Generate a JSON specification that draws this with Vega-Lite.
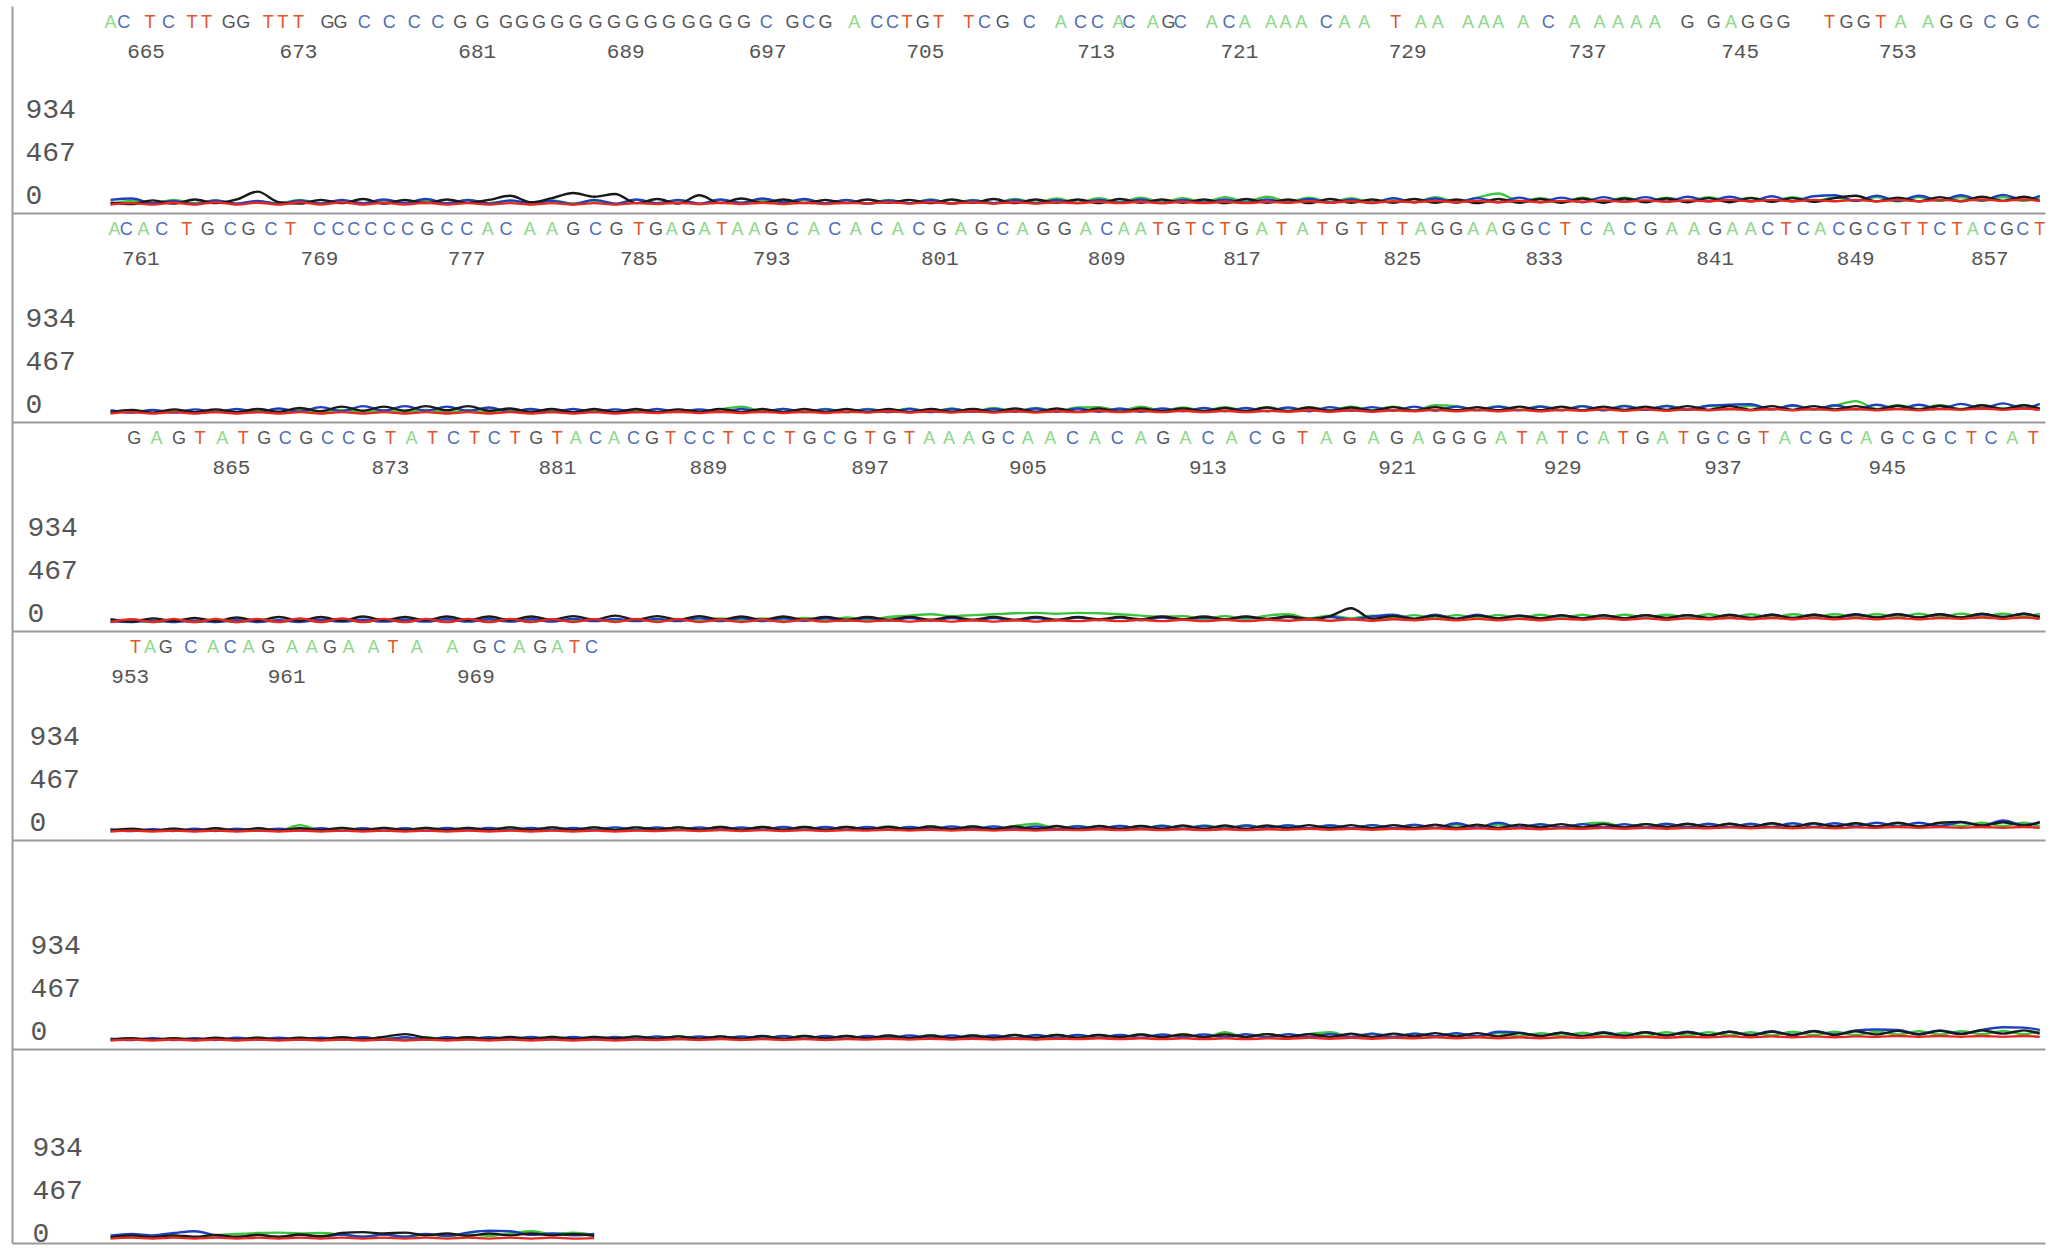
{
"$schema":"https://vega.github.io/schema/vega-lite/v6.json",
"background":"white",
"padding":{"left":12,"top":6,"right":6,"bottom":0},
"spacing":0,
"config":{"view":{"stroke":null},
"axisX":{"labels":false,"ticks":false,"grid":false,"domainColor":"#9a9a9a","domainWidth":2},
"axisY":{"labelAlign":"left","labelPadding":-13,"labelFont":"Liberation Mono","labelFontSize":28,"labelColor":"#555555","labelOffset":-9,"labelBaseline":"middle","ticks":false,"grid":false,"domainColor":"#9a9a9a","domainWidth":2}},
"datasets":{
"num":[
{"p":1,"x":112,"n":"665"},{"p":1,"x":228,"n":"673"},{"p":1,"x":364,"n":"681"},{"p":1,"x":477,"n":"689"},{"p":1,"x":585,"n":"697"},{"p":1,"x":705,"n":"705"},{"p":1,"x":835,"n":"713"},{"p":1,"x":944,"n":"721"},{"p":1,"x":1072,"n":"729"},{"p":1,"x":1209,"n":"737"},{"p":1,"x":1325,"n":"745"},{"p":1,"x":1445,"n":"753"},
{"p":2,"x":108,"n":"761"},{"p":2,"x":244,"n":"769"},{"p":2,"x":356,"n":"777"},{"p":2,"x":487,"n":"785"},{"p":2,"x":588,"n":"793"},{"p":2,"x":716,"n":"801"},{"p":2,"x":843,"n":"809"},{"p":2,"x":946,"n":"817"},{"p":2,"x":1068,"n":"825"},{"p":2,"x":1176,"n":"833"},{"p":2,"x":1306,"n":"841"},{"p":2,"x":1413,"n":"849"},{"p":2,"x":1515,"n":"857"},
{"p":3,"x":177,"n":"865"},{"p":3,"x":298,"n":"873"},{"p":3,"x":425,"n":"881"},{"p":3,"x":540,"n":"889"},{"p":3,"x":663,"n":"897"},{"p":3,"x":783,"n":"905"},{"p":3,"x":920,"n":"913"},{"p":3,"x":1064,"n":"921"},{"p":3,"x":1190,"n":"929"},{"p":3,"x":1312,"n":"937"},{"p":3,"x":1437,"n":"945"},
{"p":4,"x":100,"n":"953"},{"p":4,"x":219,"n":"961"},{"p":4,"x":363,"n":"969"}],
"seq":[
{"p":1,"x":85,"b":"A"},{"p":1,"x":95,"b":"C"},{"p":1,"x":115,"b":"T"},{"p":1,"x":129,"b":"C"},{"p":1,"x":147,"b":"T"},{"p":1,"x":158,"b":"T"},{"p":1,"x":175,"b":"G"},{"p":1,"x":186,"b":"G"},{"p":1,"x":205,"b":"T"},{"p":1,"x":216,"b":"T"},{"p":1,"x":228,"b":"T"},{"p":1,"x":250,"b":"G"},{"p":1,"x":260,"b":"G"},{"p":1,"x":278,"b":"C"},{"p":1,"x":297,"b":"C"},{"p":1,"x":316,"b":"C"},{"p":1,"x":334,"b":"C"},{"p":1,"x":351,"b":"G"},{"p":1,"x":368,"b":"G"},{"p":1,"x":386,"b":"G"},{"p":1,"x":398,"b":"G"},{"p":1,"x":411,"b":"G"},{"p":1,"x":425,"b":"G"},{"p":1,"x":439,"b":"G"},{"p":1,"x":454,"b":"G"},{"p":1,"x":468,"b":"G"},{"p":1,"x":482,"b":"G"},{"p":1,"x":496,"b":"G"},{"p":1,"x":510,"b":"G"},{"p":1,"x":525,"b":"G"},{"p":1,"x":538,"b":"G"},{"p":1,"x":553,"b":"G"},{"p":1,"x":567,"b":"G"},{"p":1,"x":584,"b":"C"},{"p":1,"x":604,"b":"G"},{"p":1,"x":616,"b":"C"},{"p":1,"x":629,"b":"G"},{"p":1,"x":651,"b":"A"},{"p":1,"x":668,"b":"C"},{"p":1,"x":680,"b":"C"},{"p":1,"x":691,"b":"T"},{"p":1,"x":703,"b":"G"},{"p":1,"x":715,"b":"T"},{"p":1,"x":738,"b":"T"},{"p":1,"x":750,"b":"C"},{"p":1,"x":764,"b":"G"},{"p":1,"x":784,"b":"C"},{"p":1,"x":808,"b":"A"},{"p":1,"x":823,"b":"C"},{"p":1,"x":836,"b":"C"},{"p":1,"x":852,"b":"A"},{"p":1,"x":860,"b":"C"},{"p":1,"x":878,"b":"A"},{"p":1,"x":890,"b":"G"},{"p":1,"x":899,"b":"C"},{"p":1,"x":923,"b":"A"},{"p":1,"x":936,"b":"C"},{"p":1,"x":948,"b":"A"},{"p":1,"x":968,"b":"A"},{"p":1,"x":979,"b":"A"},{"p":1,"x":991,"b":"A"},{"p":1,"x":1010,"b":"C"},{"p":1,"x":1024,"b":"A"},{"p":1,"x":1039,"b":"A"},{"p":1,"x":1063,"b":"T"},{"p":1,"x":1082,"b":"A"},{"p":1,"x":1095,"b":"A"},{"p":1,"x":1118,"b":"A"},{"p":1,"x":1130,"b":"A"},{"p":1,"x":1141,"b":"A"},{"p":1,"x":1160,"b":"A"},{"p":1,"x":1179,"b":"C"},{"p":1,"x":1199,"b":"A"},{"p":1,"x":1218,"b":"A"},{"p":1,"x":1232,"b":"A"},{"p":1,"x":1246,"b":"A"},{"p":1,"x":1260,"b":"A"},{"p":1,"x":1285,"b":"G"},{"p":1,"x":1305,"b":"G"},{"p":1,"x":1318,"b":"A"},{"p":1,"x":1331,"b":"G"},{"p":1,"x":1345,"b":"G"},{"p":1,"x":1358,"b":"G"},{"p":1,"x":1393,"b":"T"},{"p":1,"x":1406,"b":"G"},{"p":1,"x":1419,"b":"G"},{"p":1,"x":1432,"b":"T"},{"p":1,"x":1447,"b":"A"},{"p":1,"x":1468,"b":"A"},{"p":1,"x":1482,"b":"G"},{"p":1,"x":1497,"b":"G"},{"p":1,"x":1515,"b":"C"},{"p":1,"x":1532,"b":"G"},{"p":1,"x":1548,"b":"C"},
{"p":2,"x":88,"b":"A"},{"p":2,"x":97,"b":"C"},{"p":2,"x":110,"b":"A"},{"p":2,"x":124,"b":"C"},{"p":2,"x":143,"b":"T"},{"p":2,"x":159,"b":"G"},{"p":2,"x":176,"b":"C"},{"p":2,"x":190,"b":"G"},{"p":2,"x":207,"b":"C"},{"p":2,"x":222,"b":"T"},{"p":2,"x":244,"b":"C"},{"p":2,"x":258,"b":"C"},{"p":2,"x":270,"b":"C"},{"p":2,"x":283,"b":"C"},{"p":2,"x":297,"b":"C"},{"p":2,"x":311,"b":"C"},{"p":2,"x":326,"b":"G"},{"p":2,"x":341,"b":"C"},{"p":2,"x":356,"b":"C"},{"p":2,"x":372,"b":"A"},{"p":2,"x":386,"b":"C"},{"p":2,"x":404,"b":"A"},{"p":2,"x":421,"b":"A"},{"p":2,"x":437,"b":"G"},{"p":2,"x":454,"b":"C"},{"p":2,"x":470,"b":"G"},{"p":2,"x":487,"b":"T"},{"p":2,"x":500,"b":"G"},{"p":2,"x":512,"b":"A"},{"p":2,"x":525,"b":"G"},{"p":2,"x":537,"b":"A"},{"p":2,"x":550,"b":"T"},{"p":2,"x":562,"b":"A"},{"p":2,"x":575,"b":"A"},{"p":2,"x":588,"b":"G"},{"p":2,"x":604,"b":"C"},{"p":2,"x":620,"b":"A"},{"p":2,"x":636,"b":"C"},{"p":2,"x":652,"b":"A"},{"p":2,"x":668,"b":"C"},{"p":2,"x":684,"b":"A"},{"p":2,"x":700,"b":"C"},{"p":2,"x":716,"b":"G"},{"p":2,"x":732,"b":"A"},{"p":2,"x":748,"b":"G"},{"p":2,"x":764,"b":"C"},{"p":2,"x":779,"b":"A"},{"p":2,"x":795,"b":"G"},{"p":2,"x":811,"b":"G"},{"p":2,"x":827,"b":"A"},{"p":2,"x":843,"b":"C"},{"p":2,"x":856,"b":"A"},{"p":2,"x":869,"b":"A"},{"p":2,"x":882,"b":"T"},{"p":2,"x":894,"b":"G"},{"p":2,"x":907,"b":"T"},{"p":2,"x":920,"b":"C"},{"p":2,"x":933,"b":"T"},{"p":2,"x":946,"b":"G"},{"p":2,"x":961,"b":"A"},{"p":2,"x":976,"b":"T"},{"p":2,"x":992,"b":"A"},{"p":2,"x":1007,"b":"T"},{"p":2,"x":1022,"b":"G"},{"p":2,"x":1037,"b":"T"},{"p":2,"x":1053,"b":"T"},{"p":2,"x":1068,"b":"T"},{"p":2,"x":1082,"b":"A"},{"p":2,"x":1095,"b":"G"},{"p":2,"x":1109,"b":"G"},{"p":2,"x":1122,"b":"A"},{"p":2,"x":1136,"b":"A"},{"p":2,"x":1149,"b":"G"},{"p":2,"x":1163,"b":"G"},{"p":2,"x":1176,"b":"C"},{"p":2,"x":1192,"b":"T"},{"p":2,"x":1208,"b":"C"},{"p":2,"x":1225,"b":"A"},{"p":2,"x":1241,"b":"C"},{"p":2,"x":1257,"b":"G"},{"p":2,"x":1273,"b":"A"},{"p":2,"x":1290,"b":"A"},{"p":2,"x":1306,"b":"G"},{"p":2,"x":1319,"b":"A"},{"p":2,"x":1333,"b":"A"},{"p":2,"x":1346,"b":"C"},{"p":2,"x":1360,"b":"T"},{"p":2,"x":1373,"b":"C"},{"p":2,"x":1386,"b":"A"},{"p":2,"x":1400,"b":"C"},{"p":2,"x":1413,"b":"G"},{"p":2,"x":1426,"b":"C"},{"p":2,"x":1439,"b":"G"},{"p":2,"x":1451,"b":"T"},{"p":2,"x":1464,"b":"T"},{"p":2,"x":1477,"b":"C"},{"p":2,"x":1490,"b":"T"},{"p":2,"x":1502,"b":"A"},{"p":2,"x":1515,"b":"C"},{"p":2,"x":1528,"b":"G"},{"p":2,"x":1540,"b":"C"},{"p":2,"x":1553,"b":"T"},
{"p":3,"x":103,"b":"G"},{"p":3,"x":120,"b":"A"},{"p":3,"x":137,"b":"G"},{"p":3,"x":153,"b":"T"},{"p":3,"x":170,"b":"A"},{"p":3,"x":186,"b":"T"},{"p":3,"x":202,"b":"G"},{"p":3,"x":218,"b":"C"},{"p":3,"x":234,"b":"G"},{"p":3,"x":250,"b":"C"},{"p":3,"x":266,"b":"C"},{"p":3,"x":282,"b":"G"},{"p":3,"x":298,"b":"T"},{"p":3,"x":314,"b":"A"},{"p":3,"x":330,"b":"T"},{"p":3,"x":346,"b":"C"},{"p":3,"x":362,"b":"T"},{"p":3,"x":377,"b":"C"},{"p":3,"x":393,"b":"T"},{"p":3,"x":409,"b":"G"},{"p":3,"x":425,"b":"T"},{"p":3,"x":439,"b":"A"},{"p":3,"x":454,"b":"C"},{"p":3,"x":468,"b":"A"},{"p":3,"x":483,"b":"C"},{"p":3,"x":497,"b":"G"},{"p":3,"x":511,"b":"T"},{"p":3,"x":526,"b":"C"},{"p":3,"x":540,"b":"C"},{"p":3,"x":555,"b":"T"},{"p":3,"x":571,"b":"C"},{"p":3,"x":586,"b":"C"},{"p":3,"x":602,"b":"T"},{"p":3,"x":617,"b":"G"},{"p":3,"x":632,"b":"C"},{"p":3,"x":648,"b":"G"},{"p":3,"x":663,"b":"T"},{"p":3,"x":678,"b":"G"},{"p":3,"x":693,"b":"T"},{"p":3,"x":708,"b":"A"},{"p":3,"x":723,"b":"A"},{"p":3,"x":738,"b":"A"},{"p":3,"x":753,"b":"G"},{"p":3,"x":768,"b":"C"},{"p":3,"x":783,"b":"A"},{"p":3,"x":800,"b":"A"},{"p":3,"x":817,"b":"C"},{"p":3,"x":834,"b":"A"},{"p":3,"x":851,"b":"C"},{"p":3,"x":869,"b":"A"},{"p":3,"x":886,"b":"G"},{"p":3,"x":903,"b":"A"},{"p":3,"x":920,"b":"C"},{"p":3,"x":938,"b":"A"},{"p":3,"x":956,"b":"C"},{"p":3,"x":974,"b":"G"},{"p":3,"x":992,"b":"T"},{"p":3,"x":1010,"b":"A"},{"p":3,"x":1028,"b":"G"},{"p":3,"x":1046,"b":"A"},{"p":3,"x":1064,"b":"G"},{"p":3,"x":1080,"b":"A"},{"p":3,"x":1096,"b":"G"},{"p":3,"x":1111,"b":"G"},{"p":3,"x":1127,"b":"G"},{"p":3,"x":1143,"b":"A"},{"p":3,"x":1159,"b":"T"},{"p":3,"x":1174,"b":"A"},{"p":3,"x":1190,"b":"T"},{"p":3,"x":1205,"b":"C"},{"p":3,"x":1221,"b":"A"},{"p":3,"x":1236,"b":"T"},{"p":3,"x":1251,"b":"G"},{"p":3,"x":1266,"b":"A"},{"p":3,"x":1282,"b":"T"},{"p":3,"x":1297,"b":"G"},{"p":3,"x":1312,"b":"C"},{"p":3,"x":1328,"b":"G"},{"p":3,"x":1343,"b":"T"},{"p":3,"x":1359,"b":"A"},{"p":3,"x":1375,"b":"C"},{"p":3,"x":1390,"b":"G"},{"p":3,"x":1406,"b":"C"},{"p":3,"x":1421,"b":"A"},{"p":3,"x":1437,"b":"G"},{"p":3,"x":1453,"b":"C"},{"p":3,"x":1469,"b":"G"},{"p":3,"x":1485,"b":"C"},{"p":3,"x":1501,"b":"T"},{"p":3,"x":1516,"b":"C"},{"p":3,"x":1532,"b":"A"},{"p":3,"x":1548,"b":"T"},
{"p":4,"x":104,"b":"T"},{"p":4,"x":115,"b":"A"},{"p":4,"x":127,"b":"G"},{"p":4,"x":146,"b":"C"},{"p":4,"x":163,"b":"A"},{"p":4,"x":176,"b":"C"},{"p":4,"x":190,"b":"A"},{"p":4,"x":205,"b":"G"},{"p":4,"x":223,"b":"A"},{"p":4,"x":238,"b":"A"},{"p":4,"x":252,"b":"G"},{"p":4,"x":266,"b":"A"},{"p":4,"x":285,"b":"A"},{"p":4,"x":300,"b":"T"},{"p":4,"x":318,"b":"A"},{"p":4,"x":345,"b":"A"},{"p":4,"x":366,"b":"G"},{"p":4,"x":381,"b":"C"},{"p":4,"x":396,"b":"A"},{"p":4,"x":412,"b":"G"},{"p":4,"x":425,"b":"A"},{"p":4,"x":438,"b":"T"},{"p":4,"x":451,"b":"C"}],
"tr":[
{"p":1,"s":85,"A":10,"C":55,"G":25,"T":5},{"p":1,"s":101,"A":45,"C":70,"G":10,"T":20},{"p":1,"s":117,"A":15,"C":20,"G":50,"T":5},{"p":1,"s":133,"A":55,"C":45,"G":15,"T":25},{"p":1,"s":149,"A":20,"C":10,"G":60,"T":5},{"p":1,"s":165,"A":50,"C":50,"G":20,"T":30},{"p":1,"s":181,"A":10,"C":15,"G":60,"T":5},{"p":1,"s":197,"A":40,"C":45,"G":145,"T":25},{"p":1,"s":213,"A":15,"C":10,"G":30,"T":5},{"p":1,"s":229,"A":55,"C":50,"G":15,"T":30},{"p":1,"s":245,"A":20,"C":15,"G":55,"T":5},{"p":1,"s":261,"A":45,"C":55,"G":20,"T":30},{"p":1,"s":277,"A":10,"C":20,"G":65,"T":5},{"p":1,"s":293,"A":50,"C":60,"G":15,"T":25},{"p":1,"s":309,"A":15,"C":25,"G":55,"T":5},{"p":1,"s":325,"A":45,"C":65,"G":20,"T":25},{"p":1,"s":341,"A":10,"C":20,"G":60,"T":5},{"p":1,"s":357,"A":55,"C":55,"G":25,"T":20},{"p":1,"s":373,"A":20,"C":15,"G":55,"T":5},{"p":1,"s":389,"A":45,"C":50,"G":100,"T":20},{"p":1,"s":405,"A":10,"C":20,"G":30,"T":5},{"p":1,"s":421,"A":50,"C":45,"G":75,"T":20},{"p":1,"s":437,"A":15,"C":10,"G":130,"T":5},{"p":1,"s":453,"A":45,"C":55,"G":90,"T":20},{"p":1,"s":469,"A":10,"C":15,"G":120,"T":5},{"p":1,"s":485,"A":55,"C":60,"G":20,"T":20},{"p":1,"s":501,"A":15,"C":20,"G":65,"T":10},{"p":1,"s":517,"A":50,"C":55,"G":15,"T":25},{"p":1,"s":533,"A":10,"C":15,"G":105,"T":10},{"p":1,"s":549,"A":55,"C":60,"G":20,"T":25},{"p":1,"s":565,"A":20,"C":25,"G":70,"T":10},{"p":1,"s":581,"A":50,"C":70,"G":25,"T":25},{"p":1,"s":597,"A":15,"C":30,"G":60,"T":10},{"p":1,"s":613,"A":55,"C":65,"G":20,"T":25},{"p":1,"s":629,"A":20,"C":20,"G":55,"T":10},{"p":1,"s":645,"A":50,"C":55,"G":20,"T":25},{"p":1,"s":661,"A":15,"C":15,"G":60,"T":15},{"p":1,"s":677,"A":55,"C":50,"G":25,"T":30},{"p":1,"s":693,"A":20,"C":20,"G":55,"T":15},{"p":1,"s":709,"A":60,"C":55,"G":20,"T":30},{"p":1,"s":725,"A":20,"C":15,"G":60,"T":15},{"p":1,"s":741,"A":55,"C":50,"G":25,"T":30},{"p":1,"s":757,"A":20,"C":20,"G":65,"T":15},{"p":1,"s":773,"A":65,"C":55,"G":20,"T":30},{"p":1,"s":789,"A":25,"C":20,"G":60,"T":15},{"p":1,"s":805,"A":70,"C":55,"G":25,"T":30},{"p":1,"s":821,"A":25,"C":20,"G":60,"T":20},{"p":1,"s":837,"A":75,"C":55,"G":20,"T":35},{"p":1,"s":853,"A":30,"C":25,"G":65,"T":20},{"p":1,"s":869,"A":80,"C":60,"G":25,"T":35},{"p":1,"s":885,"A":30,"C":20,"G":60,"T":20},{"p":1,"s":901,"A":75,"C":55,"G":25,"T":35},{"p":1,"s":917,"A":30,"C":25,"G":60,"T":20},{"p":1,"s":933,"A":85,"C":60,"G":20,"T":35},{"p":1,"s":949,"A":35,"C":25,"G":65,"T":20},{"p":1,"s":965,"A":90,"C":60,"G":25,"T":35},{"p":1,"s":981,"A":35,"C":25,"G":60,"T":25},{"p":1,"s":997,"A":80,"C":65,"G":20,"T":40},{"p":1,"s":1013,"A":30,"C":25,"G":65,"T":25},{"p":1,"s":1029,"A":75,"C":60,"G":25,"T":40},{"p":1,"s":1045,"A":30,"C":20,"G":60,"T":25},{"p":1,"s":1061,"A":70,"C":75,"G":25,"T":40},{"p":1,"s":1077,"A":30,"C":30,"G":65,"T":30},{"p":1,"s":1093,"A":85,"C":70,"G":25,"T":45},{"p":1,"s":1109,"A":35,"C":25,"G":60,"T":30},{"p":1,"s":1125,"A":80,"C":75,"G":20,"T":45},{"p":1,"s":1141,"A":125,"C":30,"G":65,"T":30},{"p":1,"s":1157,"A":40,"C":80,"G":25,"T":45},{"p":1,"s":1173,"A":75,"C":30,"G":65,"T":30},{"p":1,"s":1189,"A":35,"C":80,"G":25,"T":45},{"p":1,"s":1205,"A":80,"C":30,"G":70,"T":35},{"p":1,"s":1221,"A":35,"C":85,"G":25,"T":50},{"p":1,"s":1237,"A":80,"C":35,"G":70,"T":35},{"p":1,"s":1253,"A":40,"C":85,"G":30,"T":50},{"p":1,"s":1269,"A":80,"C":35,"G":70,"T":35},{"p":1,"s":1285,"A":40,"C":90,"G":30,"T":50},{"p":1,"s":1301,"A":85,"C":40,"G":75,"T":40},{"p":1,"s":1317,"A":40,"C":90,"G":30,"T":55},{"p":1,"s":1333,"A":80,"C":40,"G":75,"T":40},{"p":1,"s":1349,"A":40,"C":95,"G":35,"T":55},{"p":1,"s":1365,"A":85,"C":40,"G":75,"T":40},{"p":1,"s":1381,"A":40,"C":95,"G":35,"T":55},{"p":1,"s":1397,"A":80,"C":105,"G":75,"T":40},{"p":1,"s":1413,"A":45,"C":45,"G":100,"T":55},{"p":1,"s":1429,"A":85,"C":100,"G":40,"T":40},{"p":1,"s":1445,"A":40,"C":45,"G":80,"T":55},{"p":1,"s":1461,"A":85,"C":100,"G":40,"T":40},{"p":1,"s":1477,"A":45,"C":50,"G":85,"T":55},{"p":1,"s":1493,"A":85,"C":105,"G":40,"T":45},{"p":1,"s":1509,"A":45,"C":50,"G":90,"T":60},{"p":1,"s":1525,"A":85,"C":110,"G":45,"T":45},{"p":1,"s":1541,"A":45,"C":55,"G":90,"T":60},{"p":1,"s":1553,"A":80,"C":100,"G":45,"T":45},
{"p":2,"s":85,"A":10,"C":40,"G":20,"T":5},{"p":2,"s":101,"A":35,"C":15,"G":45,"T":20},{"p":2,"s":117,"A":10,"C":45,"G":15,"T":5},{"p":2,"s":133,"A":40,"C":15,"G":50,"T":20},{"p":2,"s":149,"A":15,"C":50,"G":20,"T":5},{"p":2,"s":165,"A":40,"C":20,"G":50,"T":20},{"p":2,"s":181,"A":10,"C":55,"G":20,"T":5},{"p":2,"s":197,"A":45,"C":20,"G":55,"T":20},{"p":2,"s":213,"A":15,"C":60,"G":25,"T":5},{"p":2,"s":229,"A":40,"C":25,"G":65,"T":20},{"p":2,"s":245,"A":15,"C":75,"G":30,"T":5},{"p":2,"s":261,"A":45,"C":30,"G":80,"T":20},{"p":2,"s":277,"A":15,"C":85,"G":35,"T":5},{"p":2,"s":293,"A":40,"C":35,"G":80,"T":20},{"p":2,"s":309,"A":15,"C":85,"G":35,"T":5},{"p":2,"s":325,"A":45,"C":35,"G":85,"T":20},{"p":2,"s":341,"A":15,"C":80,"G":40,"T":5},{"p":2,"s":357,"A":40,"C":35,"G":85,"T":20},{"p":2,"s":373,"A":15,"C":70,"G":35,"T":5},{"p":2,"s":389,"A":45,"C":25,"G":60,"T":20},{"p":2,"s":405,"A":15,"C":55,"G":25,"T":5},{"p":2,"s":421,"A":40,"C":20,"G":55,"T":20},{"p":2,"s":437,"A":15,"C":55,"G":20,"T":5},{"p":2,"s":453,"A":45,"C":20,"G":55,"T":20},{"p":2,"s":469,"A":15,"C":50,"G":20,"T":5},{"p":2,"s":485,"A":45,"C":20,"G":55,"T":20},{"p":2,"s":501,"A":15,"C":55,"G":20,"T":10},{"p":2,"s":517,"A":45,"C":20,"G":50,"T":25},{"p":2,"s":533,"A":20,"C":50,"G":25,"T":10},{"p":2,"s":549,"A":50,"C":20,"G":55,"T":25},{"p":2,"s":565,"A":80,"C":55,"G":20,"T":10},{"p":2,"s":581,"A":30,"C":20,"G":55,"T":25},{"p":2,"s":597,"A":55,"C":55,"G":20,"T":10},{"p":2,"s":613,"A":20,"C":20,"G":55,"T":25},{"p":2,"s":629,"A":55,"C":50,"G":20,"T":10},{"p":2,"s":645,"A":20,"C":20,"G":55,"T":25},{"p":2,"s":661,"A":55,"C":50,"G":20,"T":15},{"p":2,"s":677,"A":25,"C":20,"G":55,"T":30},{"p":2,"s":693,"A":60,"C":55,"G":20,"T":15},{"p":2,"s":709,"A":25,"C":20,"G":55,"T":30},{"p":2,"s":725,"A":60,"C":55,"G":25,"T":15},{"p":2,"s":741,"A":25,"C":25,"G":55,"T":30},{"p":2,"s":757,"A":65,"C":55,"G":25,"T":15},{"p":2,"s":773,"A":30,"C":25,"G":60,"T":30},{"p":2,"s":789,"A":65,"C":60,"G":25,"T":15},{"p":2,"s":805,"A":30,"C":25,"G":60,"T":30},{"p":2,"s":821,"A":70,"C":60,"G":25,"T":20},{"p":2,"s":837,"A":75,"C":25,"G":60,"T":35},{"p":2,"s":853,"A":35,"C":60,"G":25,"T":20},{"p":2,"s":869,"A":80,"C":25,"G":60,"T":35},{"p":2,"s":885,"A":35,"C":60,"G":30,"T":20},{"p":2,"s":901,"A":70,"C":30,"G":60,"T":35},{"p":2,"s":917,"A":35,"C":65,"G":30,"T":20},{"p":2,"s":933,"A":75,"C":30,"G":65,"T":35},{"p":2,"s":949,"A":35,"C":65,"G":30,"T":20},{"p":2,"s":965,"A":75,"C":30,"G":70,"T":35},{"p":2,"s":981,"A":35,"C":70,"G":30,"T":25},{"p":2,"s":997,"A":75,"C":30,"G":70,"T":40},{"p":2,"s":1013,"A":40,"C":75,"G":35,"T":25},{"p":2,"s":1029,"A":80,"C":35,"G":70,"T":40},{"p":2,"s":1045,"A":40,"C":75,"G":35,"T":25},{"p":2,"s":1061,"A":80,"C":35,"G":75,"T":40},{"p":2,"s":1077,"A":40,"C":80,"G":35,"T":30},{"p":2,"s":1093,"A":95,"C":35,"G":75,"T":45},{"p":2,"s":1109,"A":85,"C":80,"G":40,"T":30},{"p":2,"s":1125,"A":45,"C":40,"G":75,"T":45},{"p":2,"s":1141,"A":85,"C":80,"G":40,"T":30},{"p":2,"s":1157,"A":45,"C":40,"G":80,"T":45},{"p":2,"s":1173,"A":85,"C":80,"G":40,"T":30},{"p":2,"s":1189,"A":45,"C":40,"G":80,"T":45},{"p":2,"s":1205,"A":85,"C":85,"G":40,"T":35},{"p":2,"s":1221,"A":45,"C":40,"G":80,"T":50},{"p":2,"s":1237,"A":90,"C":85,"G":45,"T":35},{"p":2,"s":1253,"A":45,"C":45,"G":80,"T":50},{"p":2,"s":1269,"A":90,"C":85,"G":45,"T":35},{"p":2,"s":1285,"A":50,"C":45,"G":85,"T":50},{"p":2,"s":1301,"A":90,"C":90,"G":45,"T":40},{"p":2,"s":1317,"A":50,"C":100,"G":85,"T":55},{"p":2,"s":1333,"A":90,"C":105,"G":45,"T":40},{"p":2,"s":1349,"A":50,"C":50,"G":85,"T":55},{"p":2,"s":1365,"A":90,"C":95,"G":45,"T":40},{"p":2,"s":1381,"A":50,"C":50,"G":85,"T":55},{"p":2,"s":1397,"A":90,"C":95,"G":50,"T":40},{"p":2,"s":1413,"A":140,"C":50,"G":85,"T":55},{"p":2,"s":1429,"A":55,"C":100,"G":50,"T":40},{"p":2,"s":1445,"A":95,"C":55,"G":90,"T":55},{"p":2,"s":1461,"A":55,"C":100,"G":50,"T":40},{"p":2,"s":1477,"A":95,"C":55,"G":90,"T":55},{"p":2,"s":1493,"A":55,"C":110,"G":50,"T":45},{"p":2,"s":1509,"A":95,"C":60,"G":95,"T":60},{"p":2,"s":1525,"A":60,"C":115,"G":55,"T":45},{"p":2,"s":1541,"A":95,"C":60,"G":95,"T":60},{"p":2,"s":1553,"A":60,"C":110,"G":55,"T":45},
{"p":3,"s":85,"A":10,"C":20,"G":40,"T":10},{"p":3,"s":101,"A":30,"C":10,"G":15,"T":40},{"p":3,"s":117,"A":10,"C":25,"G":50,"T":10},{"p":3,"s":133,"A":30,"C":10,"G":20,"T":45},{"p":3,"s":149,"A":10,"C":25,"G":55,"T":10},{"p":3,"s":165,"A":30,"C":10,"G":20,"T":45},{"p":3,"s":181,"A":10,"C":30,"G":60,"T":10},{"p":3,"s":197,"A":30,"C":10,"G":25,"T":45},{"p":3,"s":213,"A":15,"C":30,"G":65,"T":10},{"p":3,"s":229,"A":35,"C":10,"G":25,"T":50},{"p":3,"s":245,"A":15,"C":35,"G":65,"T":10},{"p":3,"s":261,"A":35,"C":15,"G":25,"T":50},{"p":3,"s":277,"A":15,"C":35,"G":70,"T":10},{"p":3,"s":293,"A":35,"C":15,"G":30,"T":45},{"p":3,"s":309,"A":15,"C":35,"G":65,"T":10},{"p":3,"s":325,"A":35,"C":15,"G":30,"T":45},{"p":3,"s":341,"A":15,"C":40,"G":70,"T":10},{"p":3,"s":357,"A":40,"C":15,"G":30,"T":45},{"p":3,"s":373,"A":15,"C":40,"G":70,"T":10},{"p":3,"s":389,"A":40,"C":15,"G":30,"T":45},{"p":3,"s":405,"A":15,"C":40,"G":70,"T":10},{"p":3,"s":421,"A":40,"C":15,"G":35,"T":40},{"p":3,"s":437,"A":20,"C":45,"G":75,"T":10},{"p":3,"s":453,"A":40,"C":20,"G":35,"T":40},{"p":3,"s":469,"A":20,"C":45,"G":80,"T":10},{"p":3,"s":485,"A":45,"C":20,"G":35,"T":40},{"p":3,"s":501,"A":20,"C":45,"G":75,"T":10},{"p":3,"s":517,"A":45,"C":20,"G":35,"T":40},{"p":3,"s":533,"A":20,"C":50,"G":75,"T":10},{"p":3,"s":549,"A":50,"C":20,"G":35,"T":35},{"p":3,"s":565,"A":25,"C":50,"G":70,"T":10},{"p":3,"s":581,"A":50,"C":20,"G":35,"T":35},{"p":3,"s":597,"A":25,"C":50,"G":70,"T":10},{"p":3,"s":613,"A":55,"C":25,"G":35,"T":35},{"p":3,"s":629,"A":25,"C":50,"G":65,"T":15},{"p":3,"s":645,"A":60,"C":25,"G":35,"T":30},{"p":3,"s":661,"A":30,"C":55,"G":65,"T":15},{"p":3,"s":677,"A":65,"C":25,"G":35,"T":30},{"p":3,"s":693,"A":80,"C":55,"G":65,"T":15},{"p":3,"s":709,"A":95,"C":25,"G":35,"T":30},{"p":3,"s":725,"A":75,"C":55,"G":65,"T":15},{"p":3,"s":741,"A":85,"C":30,"G":35,"T":30},{"p":3,"s":757,"A":95,"C":55,"G":65,"T":15},{"p":3,"s":773,"A":105,"C":30,"G":35,"T":30},{"p":3,"s":789,"A":110,"C":55,"G":65,"T":15},{"p":3,"s":805,"A":100,"C":30,"G":35,"T":30},{"p":3,"s":821,"A":110,"C":60,"G":65,"T":20},{"p":3,"s":837,"A":105,"C":30,"G":40,"T":35},{"p":3,"s":853,"A":95,"C":60,"G":65,"T":20},{"p":3,"s":869,"A":80,"C":30,"G":40,"T":35},{"p":3,"s":885,"A":65,"C":60,"G":70,"T":20},{"p":3,"s":901,"A":75,"C":35,"G":40,"T":35},{"p":3,"s":917,"A":45,"C":60,"G":70,"T":20},{"p":3,"s":933,"A":75,"C":35,"G":40,"T":35},{"p":3,"s":949,"A":45,"C":65,"G":70,"T":20},{"p":3,"s":965,"A":80,"C":35,"G":45,"T":35},{"p":3,"s":981,"A":95,"C":65,"G":70,"T":25},{"p":3,"s":997,"A":50,"C":35,"G":45,"T":40},{"p":3,"s":1013,"A":80,"C":65,"G":75,"T":25},{"p":3,"s":1029,"A":50,"C":40,"G":160,"T":40},{"p":3,"s":1045,"A":80,"C":70,"G":45,"T":25},{"p":3,"s":1061,"A":50,"C":90,"G":75,"T":40},{"p":3,"s":1077,"A":85,"C":45,"G":45,"T":30},{"p":3,"s":1093,"A":50,"C":90,"G":80,"T":45},{"p":3,"s":1109,"A":85,"C":45,"G":45,"T":30},{"p":3,"s":1125,"A":55,"C":90,"G":80,"T":45},{"p":3,"s":1141,"A":85,"C":45,"G":50,"T":30},{"p":3,"s":1157,"A":55,"C":80,"G":80,"T":45},{"p":3,"s":1173,"A":90,"C":45,"G":50,"T":30},{"p":3,"s":1189,"A":55,"C":80,"G":85,"T":45},{"p":3,"s":1205,"A":90,"C":50,"G":50,"T":35},{"p":3,"s":1221,"A":55,"C":80,"G":85,"T":50},{"p":3,"s":1237,"A":90,"C":50,"G":50,"T":35},{"p":3,"s":1253,"A":60,"C":85,"G":85,"T":50},{"p":3,"s":1269,"A":90,"C":50,"G":55,"T":35},{"p":3,"s":1285,"A":60,"C":85,"G":85,"T":50},{"p":3,"s":1301,"A":95,"C":50,"G":55,"T":40},{"p":3,"s":1317,"A":60,"C":85,"G":90,"T":55},{"p":3,"s":1333,"A":95,"C":55,"G":55,"T":40},{"p":3,"s":1349,"A":60,"C":90,"G":90,"T":55},{"p":3,"s":1365,"A":95,"C":55,"G":55,"T":40},{"p":3,"s":1381,"A":65,"C":90,"G":90,"T":55},{"p":3,"s":1397,"A":95,"C":55,"G":60,"T":40},{"p":3,"s":1413,"A":65,"C":90,"G":95,"T":55},{"p":3,"s":1429,"A":95,"C":60,"G":60,"T":40},{"p":3,"s":1445,"A":65,"C":95,"G":95,"T":55},{"p":3,"s":1461,"A":100,"C":60,"G":60,"T":40},{"p":3,"s":1477,"A":65,"C":95,"G":95,"T":55},{"p":3,"s":1493,"A":100,"C":60,"G":60,"T":45},{"p":3,"s":1509,"A":70,"C":95,"G":100,"T":60},{"p":3,"s":1525,"A":100,"C":65,"G":65,"T":45},{"p":3,"s":1541,"A":70,"C":100,"G":100,"T":60},{"p":3,"s":1553,"A":100,"C":65,"G":65,"T":45},
{"p":4,"s":85,"A":10,"C":30,"G":15,"T":5},{"p":4,"s":101,"A":30,"C":10,"G":35,"T":15},{"p":4,"s":117,"A":10,"C":30,"G":15,"T":5},{"p":4,"s":133,"A":35,"C":10,"G":35,"T":15},{"p":4,"s":149,"A":10,"C":35,"G":15,"T":5},{"p":4,"s":165,"A":35,"C":10,"G":40,"T":15},{"p":4,"s":181,"A":15,"C":35,"G":15,"T":5},{"p":4,"s":197,"A":40,"C":15,"G":40,"T":15},{"p":4,"s":213,"A":15,"C":35,"G":15,"T":5},{"p":4,"s":229,"A":75,"C":15,"G":40,"T":15},{"p":4,"s":245,"A":20,"C":40,"G":20,"T":5},{"p":4,"s":261,"A":45,"C":15,"G":45,"T":15},{"p":4,"s":277,"A":20,"C":40,"G":20,"T":5},{"p":4,"s":293,"A":45,"C":15,"G":45,"T":15},{"p":4,"s":309,"A":20,"C":40,"G":20,"T":5},{"p":4,"s":325,"A":45,"C":15,"G":45,"T":15},{"p":4,"s":341,"A":20,"C":45,"G":20,"T":5},{"p":4,"s":357,"A":45,"C":20,"G":45,"T":15},{"p":4,"s":373,"A":20,"C":45,"G":20,"T":5},{"p":4,"s":389,"A":50,"C":20,"G":50,"T":15},{"p":4,"s":405,"A":20,"C":45,"G":20,"T":5},{"p":4,"s":421,"A":50,"C":20,"G":50,"T":15},{"p":4,"s":437,"A":20,"C":45,"G":20,"T":5},{"p":4,"s":453,"A":50,"C":20,"G":50,"T":15},{"p":4,"s":469,"A":25,"C":50,"G":20,"T":5},{"p":4,"s":485,"A":50,"C":20,"G":50,"T":15},{"p":4,"s":501,"A":25,"C":50,"G":25,"T":10},{"p":4,"s":517,"A":50,"C":20,"G":50,"T":20},{"p":4,"s":533,"A":25,"C":50,"G":25,"T":10},{"p":4,"s":549,"A":55,"C":25,"G":55,"T":20},{"p":4,"s":565,"A":25,"C":50,"G":25,"T":10},{"p":4,"s":581,"A":55,"C":25,"G":55,"T":20},{"p":4,"s":597,"A":25,"C":55,"G":25,"T":10},{"p":4,"s":613,"A":55,"C":25,"G":55,"T":20},{"p":4,"s":629,"A":25,"C":55,"G":25,"T":10},{"p":4,"s":645,"A":55,"C":25,"G":55,"T":20},{"p":4,"s":661,"A":30,"C":55,"G":30,"T":15},{"p":4,"s":677,"A":60,"C":25,"G":55,"T":25},{"p":4,"s":693,"A":30,"C":55,"G":30,"T":15},{"p":4,"s":709,"A":60,"C":30,"G":60,"T":25},{"p":4,"s":725,"A":30,"C":60,"G":30,"T":15},{"p":4,"s":741,"A":60,"C":30,"G":60,"T":25},{"p":4,"s":757,"A":30,"C":60,"G":30,"T":15},{"p":4,"s":773,"A":65,"C":30,"G":60,"T":25},{"p":4,"s":789,"A":90,"C":60,"G":30,"T":15},{"p":4,"s":805,"A":35,"C":30,"G":65,"T":25},{"p":4,"s":821,"A":65,"C":60,"G":30,"T":20},{"p":4,"s":837,"A":35,"C":35,"G":65,"T":30},{"p":4,"s":853,"A":65,"C":65,"G":35,"T":20},{"p":4,"s":869,"A":35,"C":35,"G":65,"T":30},{"p":4,"s":885,"A":70,"C":65,"G":35,"T":20},{"p":4,"s":901,"A":35,"C":35,"G":70,"T":30},{"p":4,"s":917,"A":70,"C":65,"G":35,"T":20},{"p":4,"s":933,"A":40,"C":35,"G":70,"T":30},{"p":4,"s":949,"A":70,"C":70,"G":35,"T":20},{"p":4,"s":965,"A":40,"C":40,"G":70,"T":30},{"p":4,"s":981,"A":75,"C":70,"G":40,"T":25},{"p":4,"s":997,"A":40,"C":40,"G":75,"T":35},{"p":4,"s":1013,"A":75,"C":70,"G":40,"T":25},{"p":4,"s":1029,"A":40,"C":40,"G":75,"T":35},{"p":4,"s":1045,"A":75,"C":75,"G":40,"T":25},{"p":4,"s":1061,"A":45,"C":40,"G":75,"T":35},{"p":4,"s":1077,"A":75,"C":80,"G":45,"T":30},{"p":4,"s":1093,"A":45,"C":45,"G":80,"T":40},{"p":4,"s":1109,"A":80,"C":95,"G":45,"T":30},{"p":4,"s":1125,"A":45,"C":50,"G":80,"T":40},{"p":4,"s":1141,"A":80,"C":100,"G":45,"T":30},{"p":4,"s":1157,"A":45,"C":50,"G":80,"T":40},{"p":4,"s":1173,"A":80,"C":85,"G":50,"T":30},{"p":4,"s":1189,"A":50,"C":50,"G":85,"T":40},{"p":4,"s":1205,"A":85,"C":85,"G":50,"T":35},{"p":4,"s":1221,"A":100,"C":50,"G":85,"T":45},{"p":4,"s":1237,"A":55,"C":85,"G":50,"T":35},{"p":4,"s":1253,"A":85,"C":50,"G":85,"T":45},{"p":4,"s":1269,"A":55,"C":90,"G":55,"T":35},{"p":4,"s":1285,"A":85,"C":55,"G":90,"T":45},{"p":4,"s":1301,"A":55,"C":90,"G":55,"T":40},{"p":4,"s":1317,"A":90,"C":55,"G":90,"T":50},{"p":4,"s":1333,"A":55,"C":90,"G":55,"T":40},{"p":4,"s":1349,"A":90,"C":55,"G":95,"T":50},{"p":4,"s":1365,"A":60,"C":95,"G":55,"T":40},{"p":4,"s":1381,"A":90,"C":55,"G":95,"T":50},{"p":4,"s":1397,"A":60,"C":95,"G":60,"T":40},{"p":4,"s":1413,"A":95,"C":60,"G":95,"T":50},{"p":4,"s":1429,"A":60,"C":100,"G":60,"T":45},{"p":4,"s":1445,"A":95,"C":60,"G":100,"T":55},{"p":4,"s":1461,"A":60,"C":100,"G":60,"T":45},{"p":4,"s":1477,"A":95,"C":65,"G":100,"T":55},{"p":4,"s":1493,"A":65,"C":105,"G":110,"T":45},{"p":4,"s":1509,"A":100,"C":70,"G":70,"T":55},{"p":4,"s":1525,"A":65,"C":125,"G":105,"T":45},{"p":4,"s":1541,"A":100,"C":75,"G":70,"T":55},{"p":4,"s":1553,"A":65,"C":110,"G":105,"T":45},
{"p":5,"s":85,"A":10,"C":25,"G":15,"T":5},{"p":5,"s":101,"A":25,"C":10,"G":30,"T":15},{"p":5,"s":117,"A":10,"C":30,"G":15,"T":5},{"p":5,"s":133,"A":30,"C":10,"G":30,"T":15},{"p":5,"s":149,"A":10,"C":30,"G":15,"T":5},{"p":5,"s":165,"A":30,"C":10,"G":35,"T":15},{"p":5,"s":181,"A":10,"C":35,"G":15,"T":5},{"p":5,"s":197,"A":35,"C":15,"G":35,"T":15},{"p":5,"s":213,"A":15,"C":35,"G":15,"T":5},{"p":5,"s":229,"A":35,"C":15,"G":35,"T":15},{"p":5,"s":245,"A":15,"C":35,"G":20,"T":5},{"p":5,"s":261,"A":35,"C":15,"G":40,"T":15},{"p":5,"s":277,"A":15,"C":40,"G":20,"T":5},{"p":5,"s":293,"A":40,"C":15,"G":45,"T":15},{"p":5,"s":309,"A":15,"C":40,"G":75,"T":5},{"p":5,"s":325,"A":40,"C":15,"G":35,"T":15},{"p":5,"s":341,"A":15,"C":40,"G":20,"T":5},{"p":5,"s":357,"A":40,"C":20,"G":40,"T":15},{"p":5,"s":373,"A":15,"C":40,"G":20,"T":5},{"p":5,"s":389,"A":40,"C":20,"G":45,"T":15},{"p":5,"s":405,"A":20,"C":45,"G":20,"T":5},{"p":5,"s":421,"A":45,"C":20,"G":45,"T":15},{"p":5,"s":437,"A":20,"C":45,"G":20,"T":5},{"p":5,"s":453,"A":45,"C":20,"G":45,"T":15},{"p":5,"s":469,"A":20,"C":45,"G":25,"T":5},{"p":5,"s":485,"A":45,"C":20,"G":50,"T":15},{"p":5,"s":501,"A":20,"C":50,"G":25,"T":10},{"p":5,"s":517,"A":50,"C":20,"G":50,"T":20},{"p":5,"s":533,"A":20,"C":50,"G":25,"T":10},{"p":5,"s":549,"A":50,"C":25,"G":50,"T":20},{"p":5,"s":565,"A":25,"C":50,"G":25,"T":10},{"p":5,"s":581,"A":50,"C":25,"G":55,"T":20},{"p":5,"s":597,"A":25,"C":55,"G":25,"T":10},{"p":5,"s":613,"A":55,"C":25,"G":55,"T":20},{"p":5,"s":629,"A":25,"C":55,"G":30,"T":10},{"p":5,"s":645,"A":55,"C":25,"G":55,"T":20},{"p":5,"s":661,"A":25,"C":55,"G":30,"T":15},{"p":5,"s":677,"A":55,"C":30,"G":60,"T":25},{"p":5,"s":693,"A":30,"C":60,"G":30,"T":15},{"p":5,"s":709,"A":60,"C":30,"G":60,"T":25},{"p":5,"s":725,"A":30,"C":60,"G":30,"T":15},{"p":5,"s":741,"A":60,"C":30,"G":60,"T":25},{"p":5,"s":757,"A":30,"C":60,"G":35,"T":15},{"p":5,"s":773,"A":65,"C":30,"G":65,"T":25},{"p":5,"s":789,"A":30,"C":65,"G":35,"T":15},{"p":5,"s":805,"A":65,"C":35,"G":65,"T":25},{"p":5,"s":821,"A":35,"C":65,"G":35,"T":20},{"p":5,"s":837,"A":65,"C":35,"G":65,"T":30},{"p":5,"s":853,"A":35,"C":65,"G":40,"T":20},{"p":5,"s":869,"A":70,"C":35,"G":70,"T":30},{"p":5,"s":885,"A":35,"C":70,"G":40,"T":20},{"p":5,"s":901,"A":70,"C":40,"G":70,"T":30},{"p":5,"s":917,"A":40,"C":70,"G":40,"T":20},{"p":5,"s":933,"A":95,"C":40,"G":70,"T":30},{"p":5,"s":949,"A":40,"C":75,"G":45,"T":20},{"p":5,"s":965,"A":75,"C":40,"G":75,"T":30},{"p":5,"s":981,"A":40,"C":75,"G":45,"T":25},{"p":5,"s":997,"A":75,"C":45,"G":75,"T":35},{"p":5,"s":1013,"A":95,"C":75,"G":45,"T":25},{"p":5,"s":1029,"A":45,"C":45,"G":80,"T":35},{"p":5,"s":1045,"A":80,"C":80,"G":45,"T":25},{"p":5,"s":1061,"A":45,"C":45,"G":80,"T":35},{"p":5,"s":1077,"A":80,"C":80,"G":50,"T":30},{"p":5,"s":1093,"A":50,"C":50,"G":85,"T":40},{"p":5,"s":1109,"A":80,"C":85,"G":50,"T":30},{"p":5,"s":1125,"A":50,"C":50,"G":85,"T":40},{"p":5,"s":1141,"A":85,"C":100,"G":50,"T":30},{"p":5,"s":1157,"A":50,"C":90,"G":85,"T":40},{"p":5,"s":1173,"A":85,"C":55,"G":55,"T":30},{"p":5,"s":1189,"A":55,"C":90,"G":90,"T":40},{"p":5,"s":1205,"A":90,"C":55,"G":55,"T":35},{"p":5,"s":1221,"A":55,"C":95,"G":90,"T":45},{"p":5,"s":1237,"A":90,"C":60,"G":55,"T":35},{"p":5,"s":1253,"A":55,"C":95,"G":95,"T":45},{"p":5,"s":1269,"A":95,"C":60,"G":60,"T":35},{"p":5,"s":1285,"A":60,"C":100,"G":95,"T":45},{"p":5,"s":1301,"A":95,"C":60,"G":60,"T":40},{"p":5,"s":1317,"A":60,"C":100,"G":100,"T":50},{"p":5,"s":1333,"A":95,"C":65,"G":60,"T":40},{"p":5,"s":1349,"A":60,"C":105,"G":100,"T":50},{"p":5,"s":1365,"A":100,"C":65,"G":65,"T":40},{"p":5,"s":1381,"A":65,"C":110,"G":105,"T":50},{"p":5,"s":1397,"A":100,"C":70,"G":65,"T":40},{"p":5,"s":1413,"A":65,"C":115,"G":105,"T":50},{"p":5,"s":1429,"A":100,"C":125,"G":70,"T":45},{"p":5,"s":1445,"A":70,"C":120,"G":110,"T":55},{"p":5,"s":1461,"A":105,"C":75,"G":70,"T":45},{"p":5,"s":1477,"A":70,"C":115,"G":110,"T":55},{"p":5,"s":1493,"A":105,"C":80,"G":75,"T":45},{"p":5,"s":1509,"A":75,"C":120,"G":115,"T":55},{"p":5,"s":1525,"A":110,"C":150,"G":80,"T":45},{"p":5,"s":1541,"A":75,"C":145,"G":115,"T":55},{"p":5,"s":1553,"A":110,"C":120,"G":80,"T":45},
{"p":6,"s":85,"A":10,"C":35,"G":20,"T":5},{"p":6,"s":101,"A":30,"C":55,"G":40,"T":15},{"p":6,"s":117,"A":15,"C":40,"G":20,"T":5},{"p":6,"s":133,"A":35,"C":65,"G":40,"T":15},{"p":6,"s":149,"A":15,"C":85,"G":25,"T":5},{"p":6,"s":165,"A":40,"C":40,"G":45,"T":15},{"p":6,"s":181,"A":55,"C":20,"G":25,"T":5},{"p":6,"s":197,"A":65,"C":45,"G":45,"T":15},{"p":6,"s":213,"A":70,"C":20,"G":25,"T":5},{"p":6,"s":229,"A":60,"C":45,"G":50,"T":15},{"p":6,"s":245,"A":65,"C":25,"G":30,"T":5},{"p":6,"s":261,"A":45,"C":50,"G":65,"T":15},{"p":6,"s":277,"A":25,"C":25,"G":75,"T":5},{"p":6,"s":293,"A":50,"C":50,"G":60,"T":15},{"p":6,"s":309,"A":25,"C":25,"G":70,"T":5},{"p":6,"s":325,"A":50,"C":55,"G":40,"T":15},{"p":6,"s":341,"A":30,"C":35,"G":60,"T":5},{"p":6,"s":357,"A":50,"C":70,"G":35,"T":15},{"p":6,"s":373,"A":35,"C":90,"G":60,"T":5},{"p":6,"s":389,"A":60,"C":85,"G":40,"T":15},{"p":6,"s":405,"A":85,"C":45,"G":60,"T":5},{"p":6,"s":421,"A":55,"C":60,"G":40,"T":15},{"p":6,"s":437,"A":70,"C":40,"G":55,"T":5},{"p":6,"s":453,"A":45,"C":55,"G":35,"T":10}]},
"vconcat":[
{"width":2033,"height":207,"layer":[
{"data":{"name":"tr"},"transform":[{"filter":"datum.p==1"},{"fold":["A","C","G","T"],"as":["base","val"]}],"mark":{"type":"line","strokeWidth":2.4,"interpolate":"monotone"},"encoding":{"x":{"field":"s","type":"quantitative","scale":{"domain":[10,1557],"nice":false,"zero":false},"title":null},"y":{"field":"val","type":"quantitative","scale":{"domain":[-87,2161],"nice":false,"zero":false},"axis":{"values":[0,467,934]},"title":null},"color":{"field":"base","type":"nominal","scale":{"domain":["A","C","G","T"],"range":["#3cc43c","#1f3fbf","#1a1a1a","#e8281e"]},"legend":null}}},
{"mark":{"type":"rule","color":"#9a9a9a","strokeWidth":2},"encoding":{"y":{"datum":2161,"type":"quantitative","scale":{"domain":[-87,2161],"nice":false,"zero":false},"axis":{"values":[0,467,934]},"title":null}}},
{"data":{"name":"seq"},"transform":[{"filter":"datum.p==1"}],"mark":{"type":"text","font":"Liberation Sans","fontSize":18},"encoding":{"x":{"field":"x","type":"quantitative","scale":{"domain":[10,1557],"nice":false,"zero":false},"title":null},"y":{"datum":1976,"type":"quantitative","scale":{"domain":[-87,2161],"nice":false,"zero":false},"axis":{"values":[0,467,934]},"title":null},"text":{"field":"b"},"color":{"field":"b","type":"nominal","scale":{"domain":["A","C","G","T"],"range":["#8ed88a","#4f6fb4","#555555","#e0562c"]},"legend":null}}},
{"data":{"name":"num"},"transform":[{"filter":"datum.p==1"}],"mark":{"type":"text","font":"Liberation Mono","fontSize":21,"color":"#555555"},"encoding":{"x":{"field":"x","type":"quantitative","scale":{"domain":[10,1557],"nice":false,"zero":false},"title":null},"y":{"datum":1661,"type":"quantitative","scale":{"domain":[-87,2161],"nice":false,"zero":false},"axis":{"values":[0,467,934]},"title":null},"text":{"field":"n"}}}
],"resolve":{"scale":{"color":"independent"}}},
{"width":2033,"height":209,"layer":[
{"data":{"name":"tr"},"transform":[{"filter":"datum.p==2"},{"fold":["A","C","G","T"],"as":["base","val"]}],"mark":{"type":"line","strokeWidth":2.4,"interpolate":"monotone"},"encoding":{"x":{"field":"s","type":"quantitative","scale":{"domain":[10,1557],"nice":false,"zero":false},"title":null},"y":{"field":"val","type":"quantitative","scale":{"domain":[-87,2183],"nice":false,"zero":false},"axis":{"values":[0,467,934]},"title":null},"color":{"field":"base","type":"nominal","scale":{"domain":["A","C","G","T"],"range":["#3cc43c","#1f3fbf","#1a1a1a","#e8281e"]},"legend":null}}},
{"data":{"name":"seq"},"transform":[{"filter":"datum.p==2"}],"mark":{"type":"text","font":"Liberation Sans","fontSize":18},"encoding":{"x":{"field":"x","type":"quantitative","scale":{"domain":[10,1557],"nice":false,"zero":false},"title":null},"y":{"datum":1998,"type":"quantitative","scale":{"domain":[-87,2183],"nice":false,"zero":false},"axis":{"values":[0,467,934]},"title":null},"text":{"field":"b"},"color":{"field":"b","type":"nominal","scale":{"domain":["A","C","G","T"],"range":["#8ed88a","#4f6fb4","#555555","#e0562c"]},"legend":null}}},
{"data":{"name":"num"},"transform":[{"filter":"datum.p==2"}],"mark":{"type":"text","font":"Liberation Mono","fontSize":21,"color":"#555555"},"encoding":{"x":{"field":"x","type":"quantitative","scale":{"domain":[10,1557],"nice":false,"zero":false},"title":null},"y":{"datum":1683,"type":"quantitative","scale":{"domain":[-87,2183],"nice":false,"zero":false},"axis":{"values":[0,467,934]},"title":null},"text":{"field":"n"}}}
],"resolve":{"scale":{"color":"independent"}}},
{"width":2033,"height":209,"layer":[
{"data":{"name":"tr"},"transform":[{"filter":"datum.p==3"},{"fold":["A","C","G","T"],"as":["base","val"]}],"mark":{"type":"line","strokeWidth":2.4,"interpolate":"monotone"},"encoding":{"x":{"field":"s","type":"quantitative","scale":{"domain":[10,1557],"nice":false,"zero":false},"title":null},"y":{"field":"val","type":"quantitative","scale":{"domain":[-87,2183],"nice":false,"zero":false},"axis":{"values":[0,467,934],"labelPadding":-15},"title":null},"color":{"field":"base","type":"nominal","scale":{"domain":["A","C","G","T"],"range":["#3cc43c","#1f3fbf","#1a1a1a","#e8281e"]},"legend":null}}},
{"data":{"name":"seq"},"transform":[{"filter":"datum.p==3"}],"mark":{"type":"text","font":"Liberation Sans","fontSize":18},"encoding":{"x":{"field":"x","type":"quantitative","scale":{"domain":[10,1557],"nice":false,"zero":false},"title":null},"y":{"datum":1998,"type":"quantitative","scale":{"domain":[-87,2183],"nice":false,"zero":false},"axis":{"values":[0,467,934],"labelPadding":-15},"title":null},"text":{"field":"b"},"color":{"field":"b","type":"nominal","scale":{"domain":["A","C","G","T"],"range":["#8ed88a","#4f6fb4","#555555","#e0562c"]},"legend":null}}},
{"data":{"name":"num"},"transform":[{"filter":"datum.p==3"}],"mark":{"type":"text","font":"Liberation Mono","fontSize":21,"color":"#555555"},"encoding":{"x":{"field":"x","type":"quantitative","scale":{"domain":[10,1557],"nice":false,"zero":false},"title":null},"y":{"datum":1683,"type":"quantitative","scale":{"domain":[-87,2183],"nice":false,"zero":false},"axis":{"values":[0,467,934],"labelPadding":-15},"title":null},"text":{"field":"n"}}}
],"resolve":{"scale":{"color":"independent"}}},
{"width":2033,"height":209,"layer":[
{"data":{"name":"tr"},"transform":[{"filter":"datum.p==4"},{"fold":["A","C","G","T"],"as":["base","val"]}],"mark":{"type":"line","strokeWidth":2.4,"interpolate":"monotone"},"encoding":{"x":{"field":"s","type":"quantitative","scale":{"domain":[10,1557],"nice":false,"zero":false},"title":null},"y":{"field":"val","type":"quantitative","scale":{"domain":[-87,2183],"nice":false,"zero":false},"axis":{"values":[0,467,934],"labelPadding":-17},"title":null},"color":{"field":"base","type":"nominal","scale":{"domain":["A","C","G","T"],"range":["#3cc43c","#1f3fbf","#1a1a1a","#e8281e"]},"legend":null}}},
{"data":{"name":"seq"},"transform":[{"filter":"datum.p==4"}],"mark":{"type":"text","font":"Liberation Sans","fontSize":18},"encoding":{"x":{"field":"x","type":"quantitative","scale":{"domain":[10,1557],"nice":false,"zero":false},"title":null},"y":{"datum":1998,"type":"quantitative","scale":{"domain":[-87,2183],"nice":false,"zero":false},"axis":{"values":[0,467,934],"labelPadding":-17},"title":null},"text":{"field":"b"},"color":{"field":"b","type":"nominal","scale":{"domain":["A","C","G","T"],"range":["#8ed88a","#4f6fb4","#555555","#e0562c"]},"legend":null}}},
{"data":{"name":"num"},"transform":[{"filter":"datum.p==4"}],"mark":{"type":"text","font":"Liberation Mono","fontSize":21,"color":"#555555"},"encoding":{"x":{"field":"x","type":"quantitative","scale":{"domain":[10,1557],"nice":false,"zero":false},"title":null},"y":{"datum":1683,"type":"quantitative","scale":{"domain":[-87,2183],"nice":false,"zero":false},"axis":{"values":[0,467,934],"labelPadding":-17},"title":null},"text":{"field":"n"}}}
],"resolve":{"scale":{"color":"independent"}}},
{"width":2033,"height":209,"layer":[
{"data":{"name":"tr"},"transform":[{"filter":"datum.p==5"},{"fold":["A","C","G","T"],"as":["base","val"]}],"mark":{"type":"line","strokeWidth":2.4,"interpolate":"monotone"},"encoding":{"x":{"field":"s","type":"quantitative","scale":{"domain":[10,1557],"nice":false,"zero":false},"title":null},"y":{"field":"val","type":"quantitative","scale":{"domain":[-87,2183],"nice":false,"zero":false},"axis":{"values":[0,467,934],"labelPadding":-18},"title":null},"color":{"field":"base","type":"nominal","scale":{"domain":["A","C","G","T"],"range":["#3cc43c","#1f3fbf","#1a1a1a","#e8281e"]},"legend":null}}}
]},
{"width":2033,"height":194,"layer":[
{"data":{"name":"tr"},"transform":[{"filter":"datum.p==6"},{"fold":["A","C","G","T"],"as":["base","val"]}],"mark":{"type":"line","strokeWidth":2.4,"interpolate":"monotone"},"encoding":{"x":{"field":"s","type":"quantitative","scale":{"domain":[10,1557],"nice":false,"zero":false},"title":null},"y":{"field":"val","type":"quantitative","scale":{"domain":[-43,2063],"nice":false,"zero":false},"axis":{"values":[0,467,934],"labelPadding":-20,"labelOffset":-6},"title":null},"color":{"field":"base","type":"nominal","scale":{"domain":["A","C","G","T"],"range":["#3cc43c","#1f3fbf","#1a1a1a","#e8281e"]},"legend":null}}}
]}
]
}
